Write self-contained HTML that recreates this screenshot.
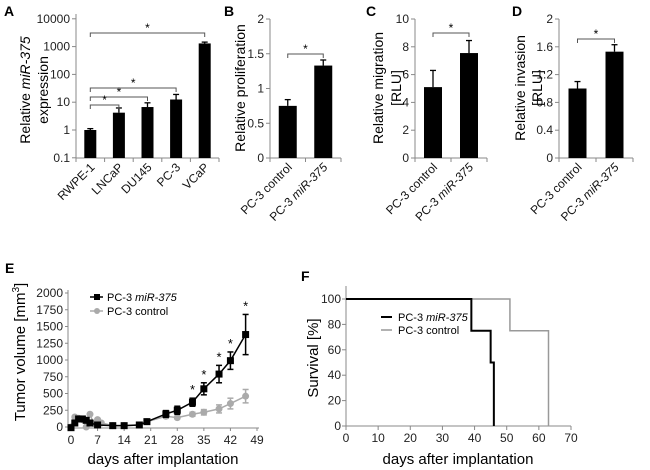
<!DOCTYPE html>
<html><head><meta charset="utf-8"><style>
html,body{margin:0;padding:0;background:#fff}
svg{display:block;font-family:"Liberation Sans",Arial,sans-serif}
</style></head><body>
<svg id="fig" width="650" height="470" viewBox="0 0 650 470">
<g font-weight="bold" font-size="14">
<text x="4" y="16">A</text><text x="224" y="16">B</text><text x="366" y="16">C</text><text x="512" y="16">D</text>
<text x="5" y="273">E</text><text x="301" y="281">F</text>
</g>
</svg>
<script>
// ---------- data ----------
const aCats=["RWPE-1","LNCaP","DU145","PC-3","VCaP"];
const aVals=[1,4.2,6.7,12.5,1300];
const aErr=[1.12,6.2,9.5,19,1450];
const aTicks=["0.1","1","10","100","1000","10000"];
const bcdCats=["PC-3 control","PC-3 miR-375"];
const bVals=[0.75,1.33]; const bErr=[0.84,1.41]; const bTicks=["0","0.5","1","1.5","2"];
const cVals=[5.1,7.55]; const cErr=[6.3,8.45]; const cTicks=["0","2","4","6","8","10"];
const dVals=[1.0,1.53]; const dErr=[1.1,1.63]; const dTicks=["0","0.4","0.8","1.2","1.6","2"];
const eDaysM=[0,1,2,3,4,5,7,11,14,18,20,25,28,32,35,39,42,46];
const eValsM=[-10,60,120,120,100,60,30,20,20,30,80,195,250,370,570,790,990,1380];
const eErrM=[0,10,15,15,15,10,10,5,5,5,10,50,60,60,90,130,130,300];
const eDaysC=[0,1,2,3,4,5,6,7,8,11,14,18,20,25,28,32,35,39,42,46];
const eValsC=[0,150,130,110,0,190,50,110,60,20,20,30,80,160,140,190,220,270,350,460];
const eErrC=[0,10,10,10,10,10,10,10,10,5,5,5,10,30,20,30,40,60,80,100];
const eStarDays=[32,35,39,42,46];
const eTicksY=["0","250","500","750","1000","1250","1500","1750","2000"];
const eTicksX=["0","7","14","21","28","35","42","49"];
const fStepM=[[0,100],[39,100],[39,75],[45,75],[45,50],[46,50],[46,0]];
const fStepC=[[0,100],[51,100],[51,75],[63,75],[63,0]];
const fTicksY=["0","20","40","60","80","100"];
const fTicksX=["0","10","20","30","40","50","60","70"];

const S=document.getElementById('fig');const NS='http://www.w3.org/2000/svg';
function mk(tag,at,parent,txt){const e=document.createElementNS(NS,tag);for(const k in at)e.setAttribute(k,at[k]);if(txt!==undefined)e.textContent=txt;(parent||S).appendChild(e);return e;}
function line(x1,y1,x2,y2,c,w,p){return mk('line',{x1,y1,x2,y2,stroke:c||'#888',"stroke-width":w||1},p);}

function catLabel(g,x,y,txt){
  const t=mk('text',{x:x,y:y,"font-size":12,"text-anchor":"end",transform:`rotate(-45 ${x} ${y})`,fill:'#111'},g);
  if(txt.indexOf('miR-375')>=0){const pre=txt.replace('miR-375','');t.textContent=pre;mk('tspan',{"font-style":"italic"},t,'miR-375');}
  else t.textContent=txt;
  
}
function bracket(g,x1,x2,y){
  const p=mk('path',{d:`M${x1} ${y+4}V${y}H${x2}V${y+4}`,fill:'none',stroke:'#555',"stroke-width":1},g);
  
  const s=mk('text',{x:(x1+x2)/2,y:y-1,"font-size":12,"text-anchor":"middle"},g,'*');
  
}
function barPanel(name,ax,axEnd,top,bot,ticks,tickVals,cats,vals,errs,yfn,bw){
  const g=mk('g',{});
  line(ax,top,ax,bot,'#888',1,g);line(ax,bot,axEnd,bot,'#888',1,g);
  ticks.forEach((t,i)=>{const y=yfn(tickVals[i]);line(ax-4,y,ax,y,'#888',1,g);
    const tl=mk('text',{x:ax-6,y:y+4,"font-size":12,"text-anchor":"end",fill:'#222'},g,t);
    });
  const cw=(axEnd-ax)/cats.length;
  for(let i=0;i<=cats.length;i++)line(ax+i*cw,bot,ax+i*cw,bot+4,'#888',1,g);
  cats.forEach((c,i)=>{const cx=ax+cw*(i+0.5);const y=yfn(vals[i]);
    const r=mk('rect',{x:cx-bw/2,y:y,width:bw,height:bot-y,fill:'#000'},g);
    
    
    const ye=yfn(errs[i]);line(cx,y,cx,ye,'#000',1.3,g);line(cx-3,ye,cx+3,ye,'#000',1.3,g);
    catLabel(g,cx+5,bot+10,c);});
  return {g,cx:i=>ax+cw*(i+0.5)};
}
function ytitle(g,x,y,txt,nm){const t=mk('text',{transform:`translate(${x} ${y}) rotate(-90)`,"text-anchor":"middle","font-size":14},g,txt);return t;}
// Panel A (log)
const aY=v=>130-27.8*Math.log10(v);
const A=barPanel('panel-a-expression',76,219,14,158,aTicks,aTicks.map(Number),aCats,aVals,aErr,aY,12);
bracket(A.g,A.cx(0),A.cx(4),33);bracket(A.g,A.cx(0),A.cx(3),88);bracket(A.g,A.cx(0),A.cx(2),97);bracket(A.g,A.cx(0),A.cx(1),105);
{const t=ytitle(A.g,30,90,'Relative ','y-axis-title');mk('tspan',{"font-style":"italic"},t,'miR-375');
 ytitle(A.g,48,90,'expression','y-axis-title-line2');}
// Panel B
const bY=v=>158-v/2*139;
const B=barPanel('panel-b-proliferation',270,341,19,158,bTicks,bTicks.map(Number),bcdCats,bVals,bErr,bY,18);
bracket(B.g,B.cx(0),B.cx(1),54);
ytitle(B.g,245,88,'Relative proliferation','y-axis-title');
// Panel C
const cY=v=>158-v/10*139;
const C=barPanel('panel-c-migration',415,487,19,158,cTicks,cTicks.map(Number),bcdCats,cVals,cErr,cY,18);
bracket(C.g,C.cx(0),C.cx(1),33);
ytitle(C.g,383,88,'Relative migration','y-axis-title');ytitle(C.g,401,88,'[RLU]','y-axis-title-line2');
// Panel D
const dY=v=>158-v/2*139;
const D=barPanel('panel-d-invasion',559,633,19,158,dTicks,dTicks.map(Number),bcdCats,dVals,dErr,dY,18);
bracket(D.g,D.cx(0),D.cx(1),39);
ytitle(D.g,525,88,'Relative invasion','y-axis-title');ytitle(D.g,542,88,'[RLU]','y-axis-title-line2');

// Panel E
{const g=mk('g',{});
 const ex=d=>71+d*(186/49), ey=v=>427-v*(134/2000);
 line(68,290,68,428,'#888',1,g);line(68,428,259,428,'#888',1,g);
 eTicksY.forEach(t=>{const y=ey(+t);line(65,y,68,y,'#888',1,g);const l=mk('text',{x:63,y:y+4,"font-size":12,"text-anchor":"end",fill:'#222'},g,t);});
 eTicksX.forEach(t=>{const x=ex(+t);line(x,428,x,431,'#888',1,g);const l=mk('text',{x:x,y:444,"font-size":12,"text-anchor":"middle",fill:'#222'},g,t);});
 function series(days,vals,errs,col,marker,nm){
   const p=mk('polyline',{points:days.map((d,i)=>ex(d)+','+ey(vals[i])).join(' '),fill:'none',stroke:col,"stroke-width":1.5},g);
   
   days.forEach((d,i)=>{const x=ex(d),y=ey(vals[i]);
     if(errs[i]>0){const y1=ey(vals[i]+errs[i]),y2=ey(vals[i]-errs[i]);line(x,y1,x,y2,col,1.5,g);line(x-3,y1,x+3,y1,col,1.5,g);line(x-3,y2,x+3,y2,col,1.5,g);}
     const m=marker==='sq'?mk('rect',{x:x-3.5,y:y-3.5,width:7,height:7,fill:col},g):mk('circle',{cx:x,cy:y,r:3.5,fill:col},g);
     });
 }
 series(eDaysC,eValsC,eErrC,'#aaa','ci','control-series');
 series(eDaysM,eValsM,eErrM,'#000','sq','mir375-series');
 eStarDays.forEach(d=>{const i=eDaysM.indexOf(d);const s=mk('text',{x:ex(d),y:ey(eValsM[i]+eErrM[i])-4,"font-size":13,"text-anchor":"middle"},g,'*');});
 line(90,297,103,297,'#000',1.5,g);mk('rect',{x:94,y:294,width:6,height:6,fill:'#000'},g);
 {const t=mk('text',{x:107,y:301,"font-size":11},g,'PC-3 ');mk('tspan',{"font-style":"italic"},t,'miR-375');}
 line(90,311,103,311,'#aaa',1.5,g);mk('circle',{cx:97,cy:311,r:3,fill:'#aaa'},g);
 {const t=mk('text',{x:107,y:315,"font-size":11},g,'PC-3 control');}
 {const t=ytitle(g,25,352,'Tumor volume [mm','y-axis-title');t.setAttribute('font-size',15);mk('tspan',{"font-size":10,dy:-6},t,'3');mk('tspan',{dy:6},t,']');}
 {const t=mk('text',{x:163,y:464,"text-anchor":"middle","font-size":15},g,'days after implantation');}
}
// Panel F
{const g=mk('g',{});
 const fx=d=>346+d*(225/70), fy=v=>426-v*(127/100);
 line(346,286,346,426,'#888',1,g);line(346,426,571,426,'#888',1,g);
 fTicksY.forEach(t=>{const y=fy(+t);line(342,y,346,y,'#888',1,g);const l=mk('text',{x:341,y:y+4,"font-size":12,"text-anchor":"end",fill:'#222'},g,t);});
 fTicksX.forEach(t=>{const x=fx(+t);line(x,426,x,430,'#888',1,g);const l=mk('text',{x:x,y:442,"font-size":12,"text-anchor":"middle",fill:'#222'},g,t);});
 const pc=mk('polyline',{points:fStepC.map(p=>fx(p[0])+','+fy(p[1])).join(' '),fill:'none',stroke:'#999',"stroke-width":1.5},g);
 
 const pm=mk('polyline',{points:fStepM.map(p=>fx(p[0])+','+fy(p[1])).join(' '),fill:'none',stroke:'#000',"stroke-width":2},g);
 
 line(381,317,392,317,'#000',2,g);
 {const t=mk('text',{x:398,y:321,"font-size":11},g,'PC-3 ');mk('tspan',{"font-style":"italic"},t,'miR-375');}
 line(381,330,392,330,'#999',1.5,g);
 {const t=mk('text',{x:398,y:334,"font-size":11},g,'PC-3 control');}
 {const t=ytitle(g,318,358,'Survival [%]','y-axis-title');t.setAttribute('font-size',15);}
 {const t=mk('text',{x:458,y:464,"text-anchor":"middle","font-size":15},g,'days after implantation');}
}
</script>
</body></html>
